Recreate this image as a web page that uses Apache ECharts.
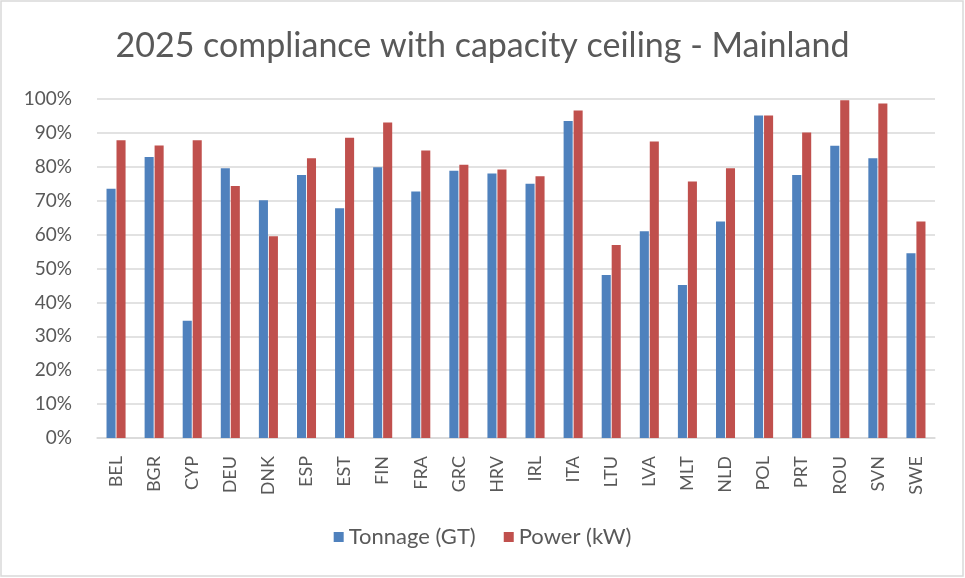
<!DOCTYPE html>
<html>
<head>
    <meta charset="utf-8">
    <title>2025 compliance with capacity ceiling - Mainland</title>
    <script src="https://cdn.jsdelivr.net/npm/echarts@6/dist/echarts.min.js"></script>
    <style>
        html, body { margin: 0; padding: 0; background: #fff; }
        #main { width: 965px; height: 578px; }
    </style>
</head>
<body>
<div id="main"></div>
<script type="text/javascript">
    // data
    var countries = ['BEL', 'BGR', 'CYP', 'DEU', 'DNK', 'ESP', 'EST', 'FIN', 'FRA', 'GRC', 'HRV',
        'IRL', 'ITA', 'LTU', 'LVA', 'MLT', 'NLD', 'POL', 'PRT', 'ROU', 'SVN', 'SWE'];
    var tonnage = [73.5, 82.9, 34.6, 79.6, 70.1, 77.6, 67.8, 79.9, 72.7, 78.8, 78.0,
        75.0, 93.5, 48.1, 61.0, 45.1, 63.9, 95.1, 77.6, 86.2, 82.5, 54.5];
    var power = [87.8, 86.3, 87.8, 74.3, 59.5, 82.5, 88.6, 93.1, 84.8, 80.6, 79.2,
        77.2, 96.6, 56.9, 87.5, 75.7, 79.6, 95.1, 90.1, 99.6, 98.7, 63.9];

    var font = 'Lato, "Open Sans", sans-serif';
    var myChart = echarts.init(document.getElementById('main'));

    var option = {
        backgroundColor: '#fff',
        animation: false,
        textStyle: { fontFamily: font },
        title: {
            text: '2025 compliance with capacity ceiling - Mainland',
            left: 'center',
            top: 24,
            textStyle: { fontFamily: font, fontSize: 34, fontWeight: 'normal', color: '#595959' }
        },
        legend: {
            data: ['Tonnage (GT)', 'Power (kW)'],
            bottom: 25,
            left: 'center',
            itemWidth: 10,
            itemHeight: 10,
            itemGap: 28,
            icon: 'rect',
            textStyle: { fontFamily: font, fontSize: 22, color: '#595959' }
        },
        grid: { left: 97, right: 30, top: 99, bottom: 140, containLabel: false },
        xAxis: {
            type: 'category',
            data: countries,
            axisLine: { lineStyle: { color: '#d9d9d9', width: 1.5 } },
            axisTick: { show: false },
            axisLabel: { rotate: 90, fontSize: 18, color: '#595959', fontFamily: font, margin: 18 }
        },
        yAxis: {
            type: 'value',
            min: 0,
            max: 100,
            interval: 10,
            axisLine: { show: false },
            axisTick: { show: false },
            splitLine: { lineStyle: { color: '#d9d9d9', width: 1.5 } },
            axisLabel: {
                fontSize: 19, color: '#595959', fontFamily: font, margin: 25,
                formatter: '{value}%'
            }
        },
        series: [{
            name: 'Tonnage (GT)',
            type: 'bar',
            data: tonnage,
            barGap: '10%',
            barCategoryGap: '50%',
            itemStyle: { color: '#4F81BD' }
        }, {
            name: 'Power (kW)',
            type: 'bar',
            data: power,
            itemStyle: { color: '#C0504D' }
        }],
        graphic: [{
            type: 'rect',
            shape: { x: 1, y: 1, width: 962, height: 575 },
            style: { fill: 'none', stroke: '#d9d9d9', lineWidth: 1.5 },
            silent: true
        }]
    };

    myChart.setOption(option);
</script>
</body>
</html>
